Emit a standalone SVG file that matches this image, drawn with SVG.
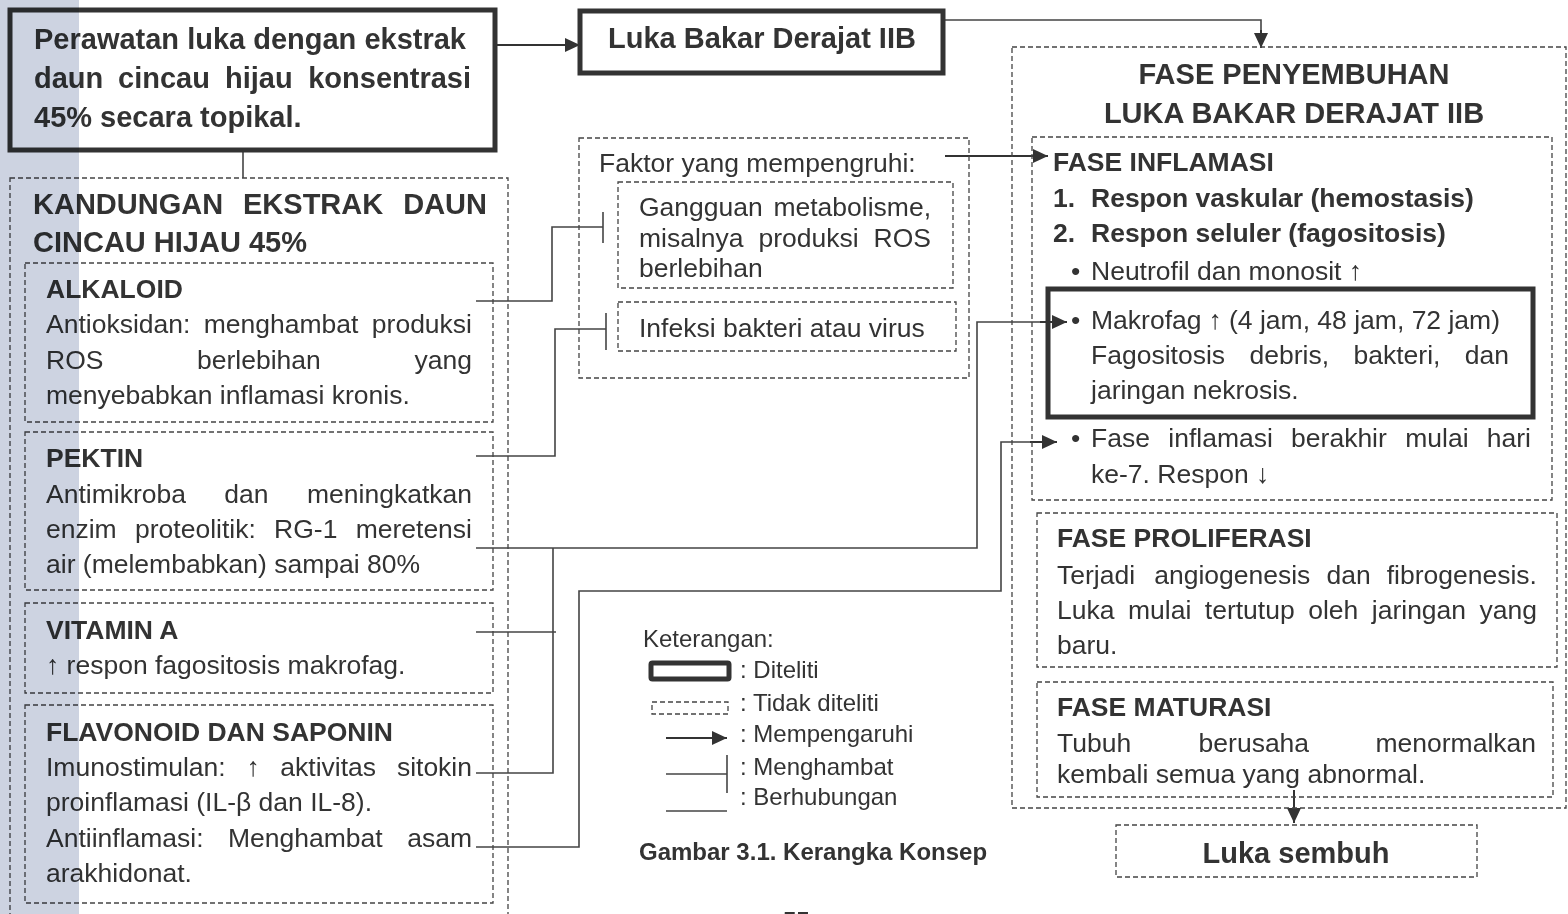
<svg xmlns="http://www.w3.org/2000/svg" width="1568" height="914" viewBox="0 0 1568 914">
<style>
text{font-family:"Liberation Sans",Arial,sans-serif;fill:#333}
.h{font-size:29px;font-weight:bold}
.s{font-size:26.5px;font-weight:bold}
.b{font-size:26.5px}
.l{font-size:24px}
.lb{font-size:24px;font-weight:bold}
.e{text-anchor:end}
.m{text-anchor:middle}
.thick{fill:#fff;stroke:#333;stroke-width:5}
.dash{fill:none;stroke:#444;stroke-width:1.3;stroke-dasharray:5 3}
.ln{fill:none;stroke:#444;stroke-width:1.6}
.arr{fill:none;stroke:#333;stroke-width:2;marker-end:url(#ah)}
</style>
<defs>
<marker id="ah" markerUnits="userSpaceOnUse" markerWidth="16" markerHeight="14" refX="15" refY="7" orient="auto">
<path d="M0,0 L15,7 L0,14 Z" fill="#333"/>
</marker>
</defs>
<rect width="1568" height="914" fill="#fff"/>

<g id="connectors">
<line class="arr" x1="495" y1="45" x2="580" y2="45"/>
<polyline class="ln" points="943,20 1261,20 1261,34"/>
<line class="arr" x1="1261" y1="30" x2="1261" y2="48"/>
<line class="arr" x1="945" y1="156" x2="1048" y2="156"/>
<line class="ln" x1="243" y1="150" x2="243" y2="178"/>
<polyline class="ln" points="476,301 552,301 552,227 603,227"/>
<line class="ln" x1="603" y1="212" x2="603" y2="243"/>
<polyline class="ln" points="476,456 555,456 555,329 606,329"/>
<line class="ln" x1="606" y1="313" x2="606" y2="350"/>
<polyline class="ln" points="476,548 977,548 977,322 1055,322"/>
<line class="arr" x1="1040" y1="322" x2="1067" y2="322"/>
<line class="ln" x1="476" y1="632" x2="556" y2="632"/>
<polyline class="ln" points="476,773 553,773 553,548"/>
<polyline class="ln" points="476,847 579,847 579,591 1001,591 1001,442 1045,442"/>
<line class="arr" x1="1030" y1="442" x2="1057" y2="442"/>
<line class="arr" x1="1294" y1="790" x2="1294" y2="823"/>
</g>

<g id="perawatan">
<rect class="thick" x="10" y="10" width="485" height="140"/>
<text class="h" x="34" y="49">Perawatan luka dengan ekstrak</text>
<text class="h" y="88"><tspan x="34">daun</tspan><tspan x="118">cincau</tspan><tspan x="225">hijau</tspan><tspan x="471" class="e">konsentrasi</tspan></text>
<text class="h" x="34" y="127">45% secara topikal.</text>
</g>

<g id="luka-bakar">
<rect class="thick" x="580" y="11" width="363" height="62"/>
<text class="h m" x="762" y="48">Luka Bakar Derajat IIB</text>
</g>

<g id="kandungan">
<rect class="dash" x="10" y="178" width="498" height="760"/>
<text class="h" y="214"><tspan x="33">KANDUNGAN</tspan><tspan x="243">EKSTRAK</tspan><tspan x="487" class="e">DAUN</tspan></text>
<text class="h" x="33" y="252">CINCAU HIJAU 45%</text>
</g>

<g id="alkaloid">
<rect class="dash" x="25" y="263" width="468" height="159"/>
<text class="s" x="46" y="298">ALKALOID</text>
<text class="b" y="333"><tspan x="46">Antioksidan:</tspan><tspan x="203.7">menghambat</tspan><tspan x="472" class="e">produksi</tspan></text>
<text class="b" y="369"><tspan x="46">ROS</tspan><tspan x="197">berlebihan</tspan><tspan x="472" class="e">yang</tspan></text>
<text class="b" x="46" y="404">menyebabkan inflamasi kronis.</text>
</g>

<g id="pektin">
<rect class="dash" x="25" y="432" width="468" height="158"/>
<text class="s" x="46" y="467">PEKTIN</text>
<text class="b" y="503"><tspan x="46">Antimikroba</tspan><tspan x="224.3">dan</tspan><tspan x="472" class="e">meningkatkan</tspan></text>
<text class="b" y="538"><tspan x="46">enzim</tspan><tspan x="135">proteolitik:</tspan><tspan x="274.1">RG-1</tspan><tspan x="472" class="e">meretensi</tspan></text>
<text class="b" x="46" y="573">air (melembabkan) sampai 80%</text>
</g>

<g id="vitamin-a">
<rect class="dash" x="25" y="603" width="468" height="90"/>
<text class="s" x="46" y="639">VITAMIN A</text>
<text class="b" x="46" y="674">↑ respon fagositosis makrofag.</text>
</g>

<g id="flavonoid">
<rect class="dash" x="25" y="705" width="468" height="198"/>
<text class="s" x="46" y="741">FLAVONOID DAN SAPONIN</text>
<text class="b" y="776"><tspan x="46">Imunostimulan:</tspan><tspan x="253" class="m">↑</tspan><tspan x="280.3">aktivitas</tspan><tspan x="472" class="e">sitokin</tspan></text>
<text class="b" x="46" y="811">proinflamasi (IL-β dan IL-8).</text>
<text class="b" y="847"><tspan x="46">Antiinflamasi:</tspan><tspan x="228">Menghambat</tspan><tspan x="472" class="e">asam</tspan></text>
<text class="b" x="46" y="882">arakhidonat.</text>
</g>

<g id="faktor">
<rect class="dash" x="579" y="138" width="390" height="240"/>
<text class="b" x="599" y="172">Faktor yang mempengruhi:</text>
</g>

<g id="gangguan">
<rect class="dash" x="618" y="182" width="335" height="106"/>
<text class="b" y="216"><tspan x="639">Gangguan</tspan><tspan x="931" class="e">metabolisme,</tspan></text>
<text class="b" y="247"><tspan x="639">misalnya</tspan><tspan x="758.5">produksi</tspan><tspan x="931" class="e">ROS</tspan></text>
<text class="b" x="639" y="277">berlebihan</text>
</g>

<g id="infeksi">
<rect class="dash" x="618" y="302" width="338" height="49"/>
<text class="b" x="639" y="337">Infeksi bakteri atau virus</text>
</g>

<g id="fase-penyembuhan">
<rect class="dash" x="1012" y="47" width="554" height="761"/>
<text class="h m" x="1294" y="84">FASE PENYEMBUHAN</text>
<text class="h m" x="1294" y="123">LUKA BAKAR DERAJAT IIB</text>
</g>

<g id="fase-inflamasi">
<rect class="dash" x="1032" y="137" width="520" height="363"/>
<text class="s" x="1053" y="171">FASE INFLAMASI</text>
<text class="s" y="207"><tspan x="1053">1.</tspan><tspan x="1091">Respon vaskular (hemostasis)</tspan></text>
<text class="s" y="242"><tspan x="1053">2.</tspan><tspan x="1091">Respon seluler (fagositosis)</tspan></text>
<text class="b" y="280"><tspan x="1071">•</tspan><tspan x="1091">Neutrofil dan monosit ↑</tspan></text>
<text class="b" y="447"><tspan x="1071">•</tspan><tspan x="1091">Fase</tspan><tspan x="1168.3">inflamasi</tspan><tspan x="1291.1">berakhir</tspan><tspan x="1405.2">mulai</tspan><tspan x="1531" class="e">hari</tspan></text>
<text class="b" x="1091" y="483">ke-7. Respon ↓</text>
</g>

<g id="makrofag">
<rect class="thick" x="1048" y="289" width="485" height="128" fill="none" style="fill:none"/>
<text class="b" y="329"><tspan x="1071">•</tspan><tspan x="1091">Makrofag</tspan><tspan x="1215" class="m">↑</tspan><tspan x="1500" class="e">(4 jam, 48 jam, 72 jam)</tspan></text>
<text class="b" y="364"><tspan x="1091">Fagositosis</tspan><tspan x="1249.5">debris,</tspan><tspan x="1353.5">bakteri,</tspan><tspan x="1509" class="e">dan</tspan></text>
<text class="b" x="1091" y="399">jaringan nekrosis.</text>
</g>

<g id="fase-proliferasi">
<rect class="dash" x="1037" y="513" width="520" height="154"/>
<text class="s" x="1057" y="547">FASE PROLIFERASI</text>
<text class="b" y="584"><tspan x="1057">Terjadi</tspan><tspan x="1154.2">angiogenesis</tspan><tspan x="1326.5">dan</tspan><tspan x="1537" class="e">fibrogenesis.</tspan></text>
<text class="b" y="619"><tspan x="1057">Luka</tspan><tspan x="1128">mulai</tspan><tspan x="1204.8">tertutup</tspan><tspan x="1308.2">oleh</tspan><tspan x="1371.8">jaringan</tspan><tspan x="1537" class="e">yang</tspan></text>
<text class="b" x="1057" y="654">baru.</text>
</g>

<g id="fase-maturasi">
<rect class="dash" x="1037" y="682" width="516" height="115"/>
<text class="s" x="1057" y="716">FASE MATURASI</text>
<text class="b" y="752"><tspan x="1057">Tubuh</tspan><tspan x="1198.6">berusaha</tspan><tspan x="1536" class="e">menormalkan</tspan></text>
<text class="b" x="1057" y="783">kembali semua yang abnormal.</text>
</g>

<g id="luka-sembuh">
<rect class="dash" x="1116" y="825" width="361" height="52"/>
<text class="h m" x="1296" y="863">Luka sembuh</text>
</g>

<g id="legend">
<text class="l" x="643" y="647">Keterangan:</text>
<rect x="651" y="663" width="78" height="16" fill="#fff" stroke="#333" stroke-width="5" rx="1.5"/>
<text class="l" x="740" y="678">: Diteliti</text>
<rect class="dash" x="652" y="702" width="76" height="12"/>
<text class="l" x="740" y="711">: Tidak diteliti</text>
<line class="arr" x1="666" y1="738" x2="727" y2="738"/>
<text class="l" x="740" y="742">: Mempengaruhi</text>
<line class="ln" x1="666" y1="774" x2="727" y2="774"/>
<line class="ln" x1="727" y1="755" x2="727" y2="793"/>
<text class="l" x="740" y="775">: Menghambat</text>
<line class="ln" x1="666" y1="811" x2="727" y2="811"/>
<text class="l" x="740" y="805">: Berhubungan</text>
<text class="lb" x="639" y="860">Gambar 3.1. Kerangka Konsep</text>
</g>

<text class="lb" x="783" y="929">55</text>
<rect x="0" y="0" width="79" height="914" fill="#cdd3e1" style="mix-blend-mode:multiply"/>
</svg>
